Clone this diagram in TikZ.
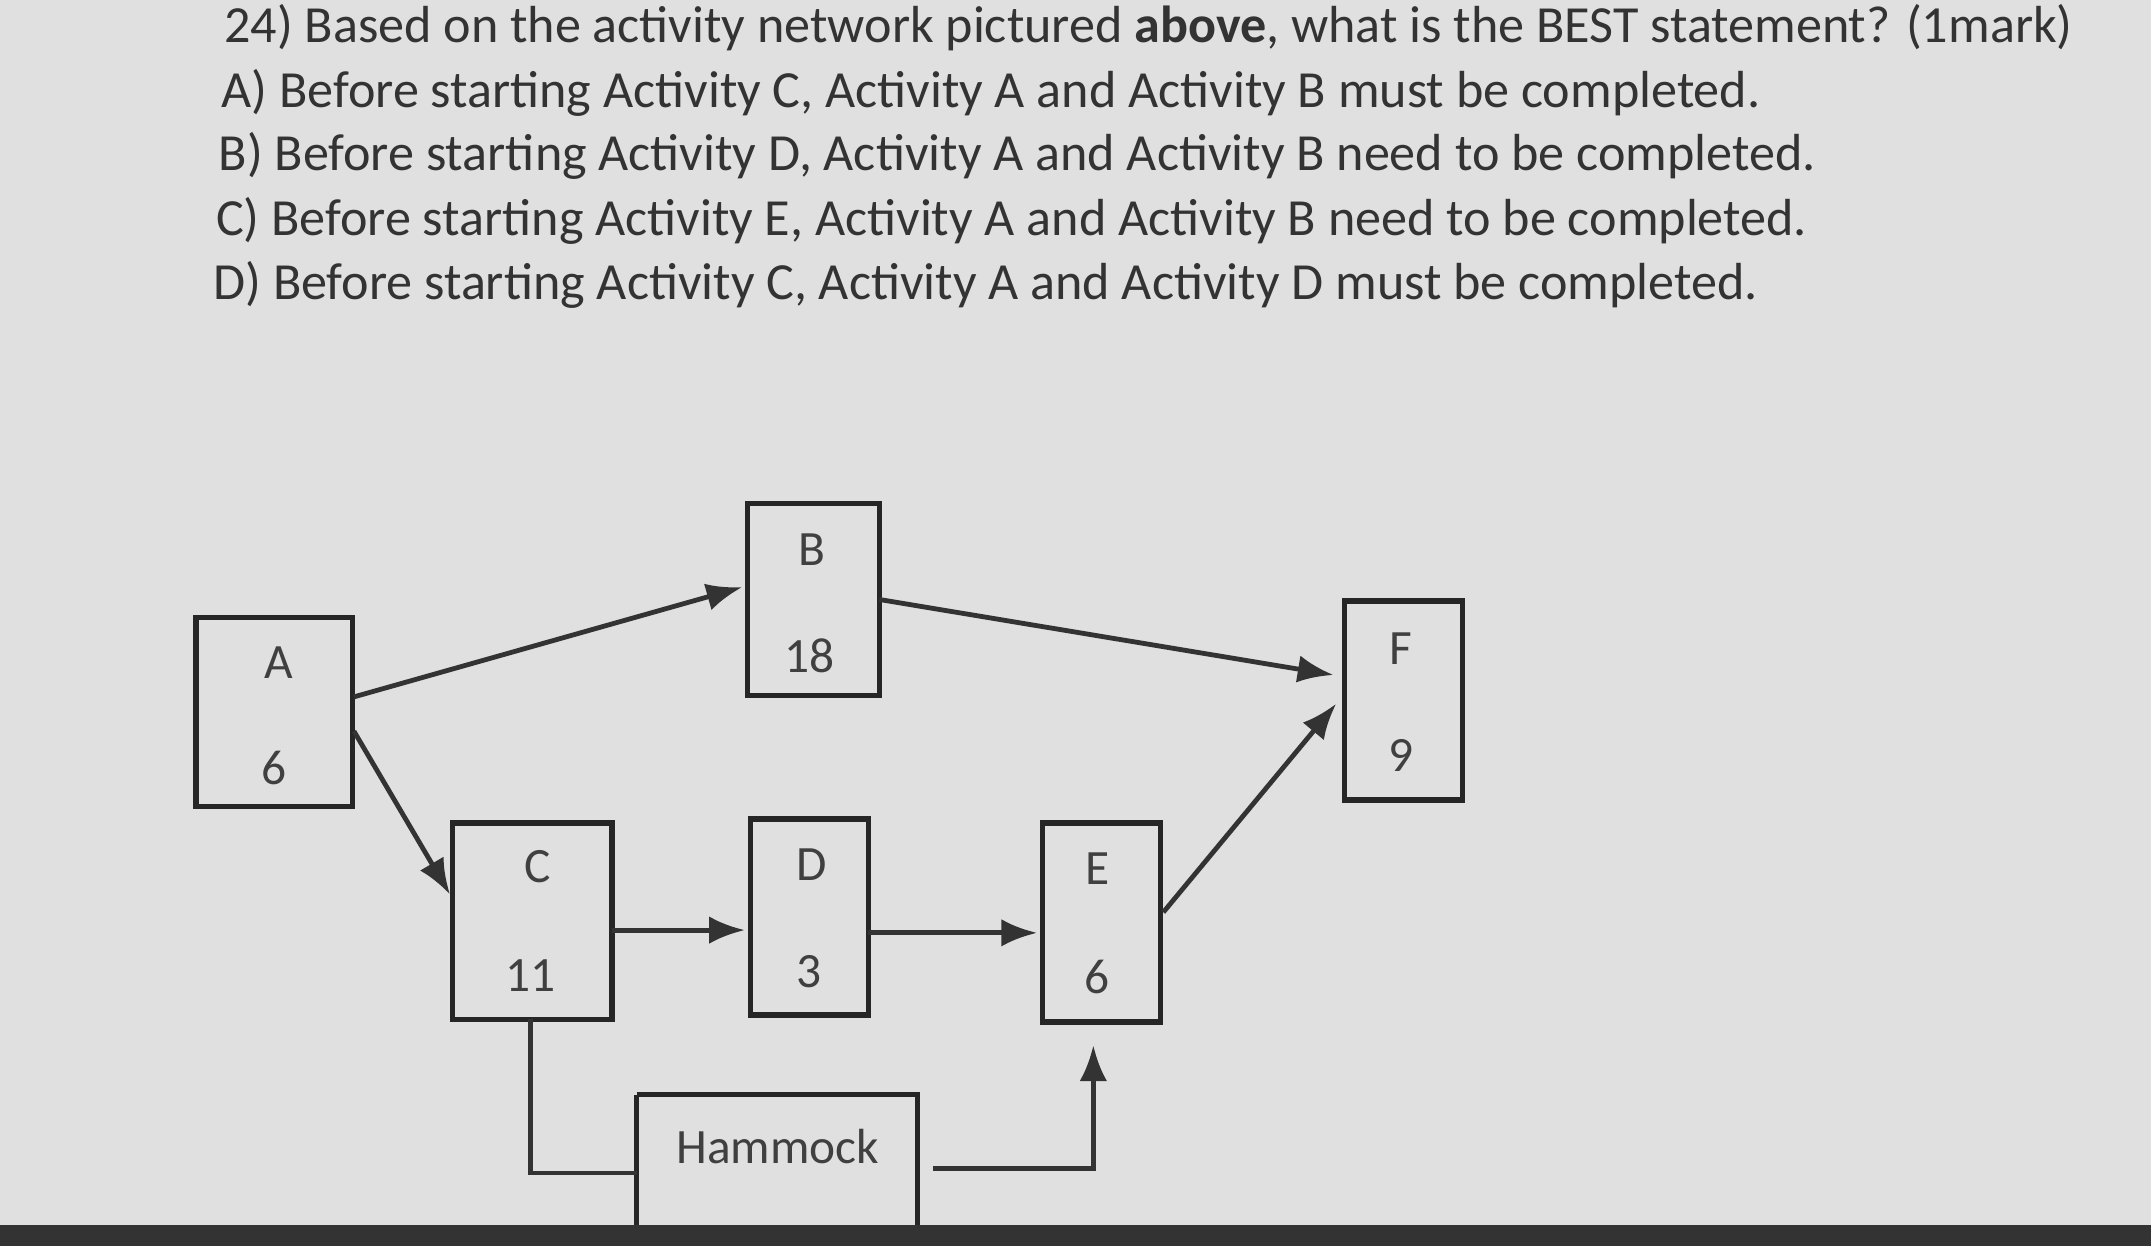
\documentclass[tikz,border=0pt]{standalone}
\usepackage{fontspec}
\setmainfont{Carlito}
\usetikzlibrary{arrows.meta}
\begin{document}
\begin{tikzpicture}[x=1pt,y=-1pt,
  box/.style={draw=black!85,line width=4pt},
  lbl/.style={text=black!75,font=\fontsize{36}{40}\selectfont},
  con/.style={draw=black!80,line width=3.5pt},
  arr/.style={con,-{Latex[length=26pt,width=20pt]}},
  q/.style={anchor=west,text=black!80,font=\fontsize{38}{42}\selectfont}]
\fill[black!12] (0,0) rectangle (1568,908);
\useasboundingbox (0,0) rectangle (1568,908);
\fill[black!80] (0,893) rectangle (1568,908);
\node[q] (q0) at (160,20) {24) Based on the activity network pictured \textbf{above}, what is the BEST statement? (1mark)};
\node[q] (q1) at (158,68) {A) Before starting Activity C, Activity A and Activity B must be completed.};
\node[q] (q2) at (156,114) {B) Before starting Activity D, Activity A and Activity B need to be completed.};
\node[q] (q3) at (154,161) {C) Before starting Activity E, Activity A and Activity B need to be completed.};
\node[q] (q4) at (152,208) {D) Before starting Activity C, Activity A and Activity D must be completed.};
\draw[box] (143,450) rectangle (257,588);
\draw[box] (545,367) rectangle (641,507);
\draw[box] (980,438) rectangle (1066,583);
\draw[box] (330,600) rectangle (446,743);
\draw[box] (547,597) rectangle (633,740);
\draw[box] (760,600) rectangle (846,745);
\draw[box] (464,798) -- (464,893) (464,798) -- (669,798) -- (669,893);
\node[lbl] (a1) at (203,483) {A}; \node[lbl] (a2) at (200,560) {6};
\node[lbl] (b1) at (592,401) {B}; \node[lbl] (b2) at (590,478) {18};
\node[lbl] (f1) at (1021,473) {F}; \node[lbl] (f2) at (1021,551) {9};
\node[lbl] (c1) at (392,632) {C}; \node[lbl] (c2) at (387,711) {11};
\node[lbl] (d1) at (592,630) {D}; \node[lbl] (d2) at (590,708) {3};
\node[lbl] (e1) at (800,633) {E}; \node[lbl] (e2) at (800,712) {6};
\node[lbl] (h) at (567,836) {Hammock};
\coordinate (aB) at (258,508); \coordinate (Bin) at (541,428);
\coordinate (aC) at (258,533); \coordinate (Cin) at (328,652);
\coordinate (Bo) at (641,437); \coordinate (Fin) at (972,492);
\coordinate (Eo) at (848,665); \coordinate (Fin2) at (974,513);
\coordinate (Co) at (446,678); \coordinate (Din) at (543,678);
\coordinate (Do) at (633,680); \coordinate (Ein) at (756,680);
\coordinate (Cb) at (387,743); \coordinate (Hl) at (464,855);
\coordinate (Hr) at (680,852); \coordinate (Eb) at (797,762);
\draw[arr] (aB) -- (Bin);
\draw[arr] (aC) -- (Cin);
\draw[arr] (Bo) -- (Fin);
\draw[arr] (Eo) -- (Fin2);
\draw[arr] (Co) -- (Din);
\draw[arr] (Do) -- (Ein);
\draw[con] (Cb) |- (Hl);
\draw[arr] (Hr) -| (Eb);
\end{tikzpicture}
\end{document}
